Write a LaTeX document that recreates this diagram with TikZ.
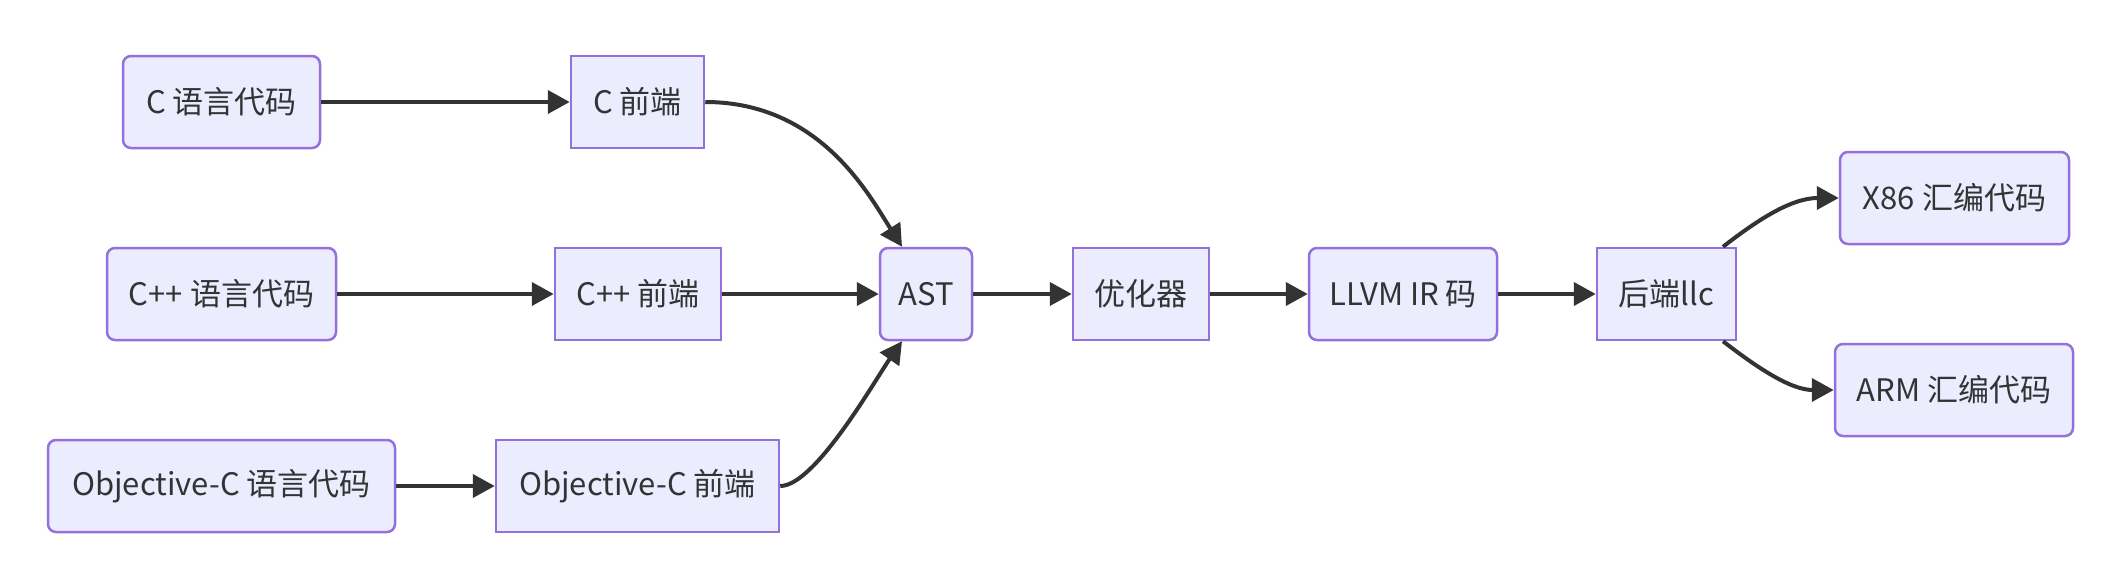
\documentclass[tikz,border=0pt]{standalone}
\usepackage{fontspec}
\setmainfont{Noto Sans CJK SC}
\usetikzlibrary{arrows.meta,calc}
\definecolor{nodefill}{HTML}{ECECFF}
\definecolor{nodeline}{HTML}{9370DB}
\definecolor{edgeline}{HTML}{333333}
\begin{document}
\begin{tikzpicture}[x=1pt,y=-1pt,
  box/.style={draw=nodeline,fill=nodefill,line width=2.5pt,minimum height=92pt,inner sep=0pt,
    text=edgeline,font=\fontsize{31}{36}\selectfont},
  rbox/.style={box,rounded corners=8pt},
  edge/.style={draw=edgeline,line width=4pt,-{Triangle[length=22pt,width=23pt]}}]
\useasboundingbox (0,0) rectangle (2126,562);
\node[rbox,minimum width=197pt] (cs) at (221.5,102) {C 语言代码};
\node[box,minimum width=133pt] (cf) at (637.5,102) {C 前端};
\node[rbox,minimum width=229pt] (cpps) at (221.5,294) {C++ 语言代码};
\node[box,minimum width=166pt] (cppf) at (638,294) {C++ 前端};
\node[rbox,minimum width=347pt] (ocs) at (221.5,486) {Objective-C 语言代码};
\node[box,minimum width=283pt] (ocf) at (637.5,486) {Objective-C 前端};
\node[rbox,minimum width=92pt] (ast) at (926,294) {AST};
\node[box,minimum width=136pt] (opt) at (1141,294) {优化器};
\node[rbox,minimum width=188pt] (ir) at (1403,294) {LLVM IR 码};
\node[box,minimum width=139pt] (llc) at (1666.5,294) {后端llc};
\node[rbox,minimum width=229pt] (x86) at (1954.5,198) {X86 汇编代码};
\node[rbox,minimum width=238pt] (arm) at (1954,390) {ARM 汇编代码};
\draw[edge] (cs) -- (cf);
\draw[edge] (cpps) -- (cppf);
\draw[edge] (ocs) -- (ocf);
\draw[edge] (cppf) -- (ast);
\draw[edge] (ast) -- (opt);
\draw[edge] (opt) -- (ir);
\draw[edge] (ir) -- (llc);
\draw[edge] (cf.east) .. controls (820,102) and (869,195) .. ($(ast.north)+(-24,0)$);
\draw[edge] (ocf.east) .. controls (815,486) and (875,380) .. ($(ast.south)+(-24,0)$);
\draw[edge] ($(llc.north)+(56.5,0)$) .. controls (1755,222) and (1790,198) .. (x86.west);
\draw[edge] ($(llc.south)+(56.5,0)$) .. controls (1755,366) and (1790,390) .. (arm.west);
\end{tikzpicture}
\end{document}
